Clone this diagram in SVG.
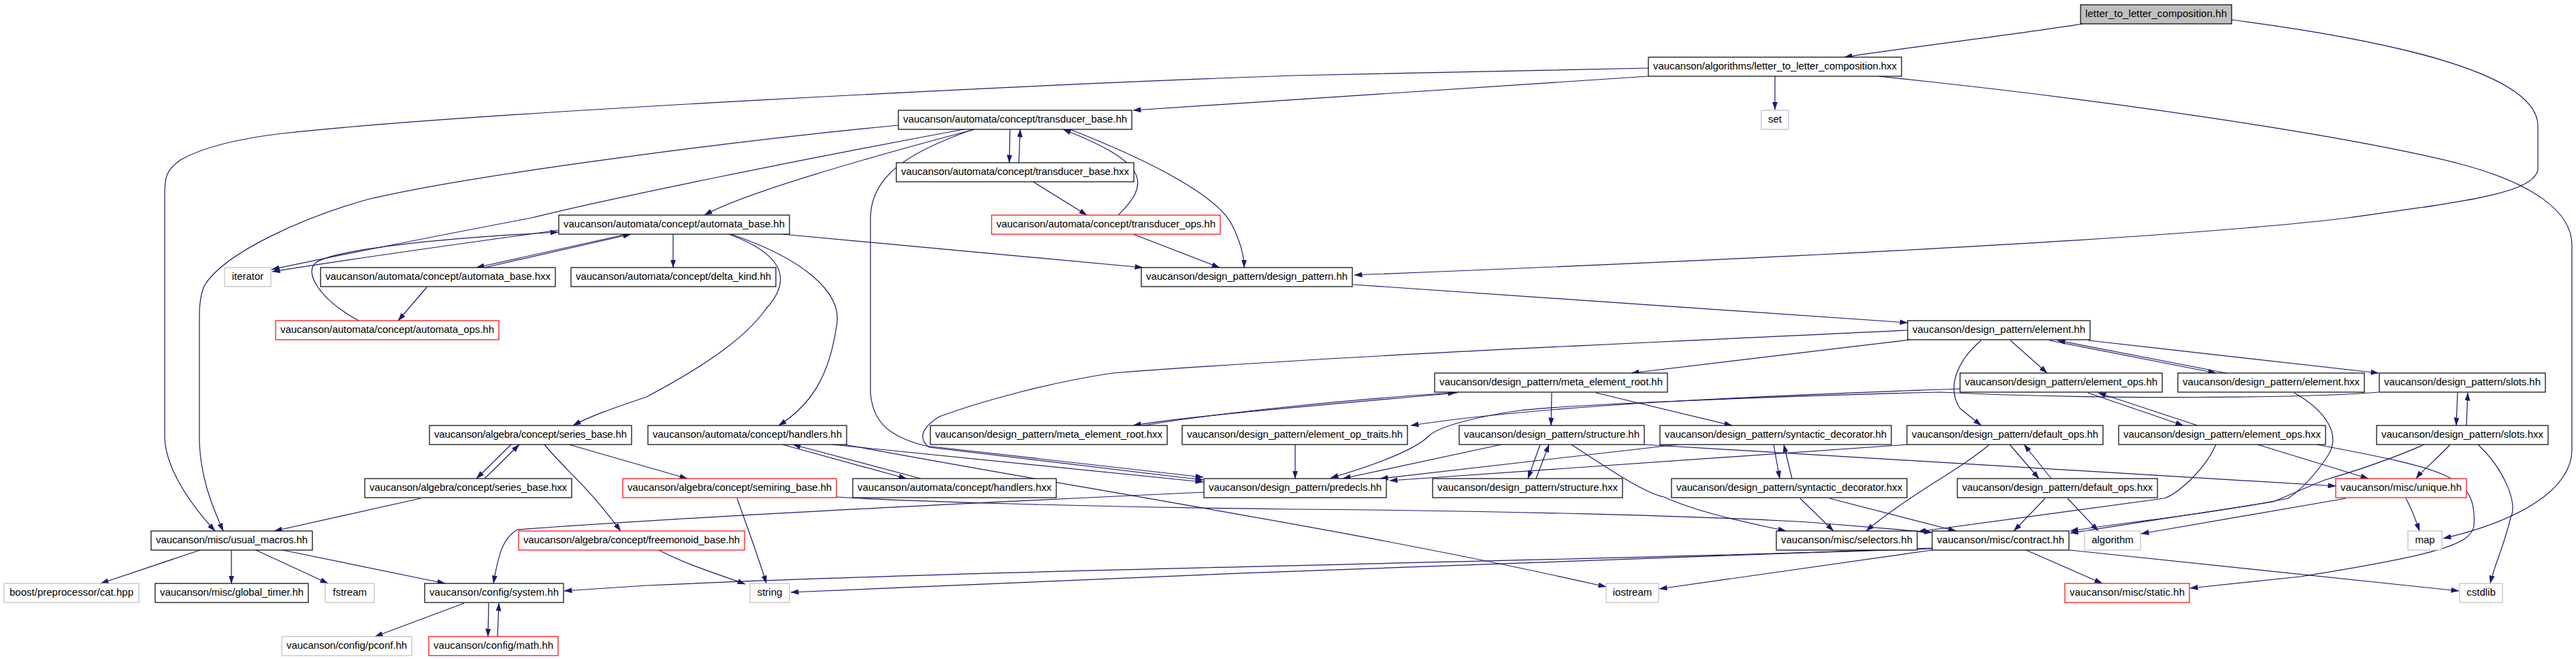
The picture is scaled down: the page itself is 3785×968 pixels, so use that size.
<svg xmlns="http://www.w3.org/2000/svg" width="3785" height="968" viewBox="0 0 3785 968">
<defs>
<marker id="a" markerUnits="userSpaceOnUse" markerWidth="12" markerHeight="8" viewBox="0 0 12 8" refX="11.5" refY="4" orient="auto"><path d="M0,0 L12,4 L0,8 z" fill="#191970"/></marker>
<style>
rect{fill:#fff;stroke:#000;stroke-width:1.2}
.r rect{stroke:#ff0000}
.g rect{stroke:#bfbfbf}
.m rect{fill:#bfbfbf}
text{font-family:"Liberation Sans",Arial,sans-serif;font-size:15px;fill:#000;text-anchor:middle}
#edges path{fill:none;stroke:#191970;stroke-width:1.2;marker-end:url(#a)}
</style>
</defs>
<rect x="0" y="0" width="3785" height="968" style="fill:#fff;stroke:none"/>
<g id="edges">
<path d="M3060,35 C2950,52 2800,70 2710,84"/>
<path d="M3279,29 C3530,62 3729,110 3729,185 L3729,250 C3720,285 3620,296 3450,320 C3200,350 2600,380 1990,404"/>
<path d="M2760,112 L2835,120 C3200,160 3500,210 3623,243 C3720,270 3779,310 3779,360 L3779,660 C3779,720 3700,765 3590,791"/>
<path d="M2608,112 L2608,161"/>
<path d="M2422,112 L1665,162"/>
<path d="M2422,100 L1900,111 C1500,125 700,165 415,196 C330,206 288,222 265,235 C242,252 242,260 242,300 L242,640 C242,680 270,730 316,780"/>
<path d="M1484,190 L1483,239"/>
<path d="M1497,239 L1499,190"/>
<path d="M1518,267 L1597,316"/>
<path d="M1643,316 C1690,270 1690,240 1562,190"/>
<path d="M1665,344 L1792,393"/>
<path d="M1572,190 C1700,240 1790,290 1810,330 C1825,360 1828,380 1828,393"/>
<path d="M1432,190 C1300,225 1100,280 1035,316"/>
<path d="M1416,190 C1200,230 900,290 781,320 C650,345 520,370 399,396"/>
<path d="M1430,190 C1330,225 1280,260 1279,320 L1279,577 C1282,615 1300,640 1360,655 L1768,701"/>
<path d="M1320,184 C1100,205 700,255 540,293 C450,318 330,370 300,420 C292,440 293,460 293,480 L293,650 C295,700 310,740 328,780"/>
<path d="M821,338 C700,355 550,375 400,399"/>
<path d="M527,471 C470,440 445,400 465,385 C500,365 650,350 820,341"/>
<path d="M921,344 L700,393"/>
<path d="M712,393 L927,344"/>
<path d="M627,422 L585,471"/>
<path d="M989,344 L989,393"/>
<path d="M1150,344 L1679,393"/>
<path d="M1074,344 C1180,380 1240,430 1229,480 C1220,540 1200,590 1144,625"/>
<path d="M1071,344 C1150,373 1165,410 1126,453 C1100,490 1050,530 950,583 C900,600 870,610 842,625"/>
<path d="M1988,418 L2803,474"/>
<path d="M2807,499 L2397,548"/>
<path d="M2803,485 C2500,500 2000,520 1635,548 C1540,562 1440,590 1380,612 C1352,630 1350,645 1365,657 L1768,705"/>
<path d="M2954,500 L3008,548"/>
<path d="M3011,500 L3256,548"/>
<path d="M3271,548 L3023,500"/>
<path d="M3068,500 L3495,548"/>
<path d="M2911,500 C2875,530 2860,570 2880,600 L2911,625"/>
<path d="M2880,571 C2700,578 2300,590 2073,625"/>
<path d="M3495,576 C3400,584 3100,588 2850,576 C2600,582 2300,595 2233,603 C2150,615 2110,630 2100,640 C2080,660 2030,680 1955,702"/>
<path d="M2280,577 L2279,625"/>
<path d="M2345,577 L2545,625"/>
<path d="M2142,577 C2000,590 1750,610 1665,625"/>
<path d="M1680,625 C1800,605 2000,585 2139,577"/>
<path d="M2263,653 L2245,703"/>
<path d="M2257,703 L2276,653"/>
<path d="M2206,653 L1973,703"/>
<path d="M2309,653 C2380,700 2420,725 2445,730 C2500,755 2580,770 2624,780"/>
<path d="M2416,653 L3432,714"/>
<path d="M2606,653 L2615,703"/>
<path d="M2633,703 L2621,653"/>
<path d="M2465,653 L2028,703"/>
<path d="M2803,653 L2042,706"/>
<path d="M2923,653 C2880,690 2800,730 2742,780"/>
<path d="M2953,653 L2996,703"/>
<path d="M3014,703 L2974,653"/>
<path d="M3068,577 L3208,625"/>
<path d="M3229,625 L3083,577"/>
<path d="M3371,577 C3420,605 3440,640 3420,670 C3400,700 3380,720 3362,732 C3250,755 3100,770 3042,780"/>
<path d="M3562,653 C3500,680 3440,698 3416,705 C3390,715 3370,725 3340,737 L3042,783"/>
<path d="M3256,653 C3240,690 3200,725 3180,732 L2818,781"/>
<path d="M3447,732 L3146,784"/>
<path d="M3005,732 L2959,780"/>
<path d="M3038,732 L3083,780"/>
<path d="M3535,732 C3545,750 3550,765 3555,780"/>
<path d="M3600,653 C3580,675 3560,690 3550,703"/>
<path d="M3317,653 L3480,703"/>
<path d="M3641,653 C3680,690 3700,740 3689,760 C3680,800 3665,830 3659,857"/>
<path d="M3404,653 C3600,690 3640,700 3635,773 C3630,800 3580,815 3380,847 L3218,864"/>
<path d="M2977,808 L3089,857"/>
<path d="M3041,808 L3613,868"/>
<path d="M3611,577 L3609,625"/>
<path d="M3624,625 L3626,577"/>
<path d="M751,653 L700,703"/>
<path d="M712,703 L763,653"/>
<path d="M800,653 C830,690 860,710 912,780"/>
<path d="M836,653 L1010,703"/>
<path d="M618,732 L403,780"/>
<path d="M294,808 L148,857"/>
<path d="M340,808 L340,857"/>
<path d="M376,808 L482,857"/>
<path d="M415,808 L654,857"/>
<path d="M682,886 L551,935"/>
<path d="M718,886 L717,935"/>
<path d="M731,935 L733,886"/>
<path d="M1150,653 L1332,703"/>
<path d="M1353,703 L1165,653"/>
<path d="M1223,653 L1768,708"/>
<path d="M1241,653 C1600,720 2000,780 2360,862"/>
<path d="M1229,730 C1300,735 1600,745 1900,748 C2200,750 2500,758 2657,767 L2839,782"/>
<path d="M1769,723 C1400,740 1000,760 760,778 C740,790 733,810 725,857"/>
<path d="M1083,732 C1100,780 1115,820 1126,857"/>
<path d="M968,808 C1010,830 1060,845 1095,858"/>
<path d="M2839,805 C2400,820 1700,845 1162,870"/>
<path d="M2839,806 C2300,825 1500,835 950,860 L829,868"/>
<path d="M2839,808 L2438,865"/>
<path d="M2645,732 L2694,780"/>
<path d="M2688,732 L2874,780"/>
<path d="M1903,653 L1903,703"/>
</g>
<g id="n_main" class="m"><rect x="3057" y="7" width="222" height="28"/><text x="3168" y="25" textLength="208">letter_to_letter_composition.hh</text></g>
<g id="n_lcomp"><rect x="2422" y="84" width="372" height="28"/><text x="2608" y="102" textLength="358">vaucanson/algorithms/letter_to_letter_composition.hxx</text></g>
<g id="n_set" class="g"><rect x="2588" y="162" width="40" height="28"/><text x="2608" y="180">set</text></g>
<g id="n_tb"><rect x="1320" y="162" width="343" height="28"/><text x="1491.5" y="180" textLength="329">vaucanson/automata/concept/transducer_base.hh</text></g>
<g id="n_tbx"><rect x="1317" y="239" width="349" height="28"/><text x="1491.5" y="257" textLength="335">vaucanson/automata/concept/transducer_base.hxx</text></g>
<g id="n_tops" class="r"><rect x="1457" y="316" width="336" height="28"/><text x="1625" y="334" textLength="322">vaucanson/automata/concept/transducer_ops.hh</text></g>
<g id="n_ab"><rect x="821" y="316" width="339" height="28"/><text x="990.5" y="334" textLength="325">vaucanson/automata/concept/automata_base.hh</text></g>
<g id="n_iter" class="g"><rect x="330" y="393" width="68" height="28"/><text x="364" y="411">iterator</text></g>
<g id="n_abx"><rect x="471" y="393" width="345" height="28"/><text x="643.5" y="411" textLength="331">vaucanson/automata/concept/automata_base.hxx</text></g>
<g id="n_dk"><rect x="839" y="393" width="301" height="28"/><text x="989.5" y="411" textLength="287">vaucanson/automata/concept/delta_kind.hh</text></g>
<g id="n_dp"><rect x="1677" y="393" width="310" height="28"/><text x="1832" y="411" textLength="296">vaucanson/design_pattern/design_pattern.hh</text></g>
<g id="n_aops" class="r"><rect x="405" y="471" width="328" height="28"/><text x="569" y="489" textLength="314">vaucanson/automata/concept/automata_ops.hh</text></g>
<g id="n_el"><rect x="2803" y="471" width="268" height="28"/><text x="2937" y="489" textLength="254">vaucanson/design_pattern/element.hh</text></g>
<g id="n_mer"><rect x="2108" y="548" width="342" height="28"/><text x="2279" y="566" textLength="328">vaucanson/design_pattern/meta_element_root.hh</text></g>
<g id="n_eo"><rect x="2880" y="548" width="297" height="28"/><text x="3028.5" y="566" textLength="283">vaucanson/design_pattern/element_ops.hh</text></g>
<g id="n_elx"><rect x="3200" y="548" width="274" height="28"/><text x="3337" y="566" textLength="260">vaucanson/design_pattern/element.hxx</text></g>
<g id="n_slots"><rect x="3496" y="548" width="244" height="28"/><text x="3618" y="566" textLength="230">vaucanson/design_pattern/slots.hh</text></g>
<g id="n_sb"><rect x="631" y="625" width="297" height="28"/><text x="779.5" y="643" textLength="283">vaucanson/algebra/concept/series_base.hh</text></g>
<g id="n_h"><rect x="952" y="625" width="292" height="28"/><text x="1098" y="643" textLength="278">vaucanson/automata/concept/handlers.hh</text></g>
<g id="n_merx"><rect x="1367" y="625" width="348" height="28"/><text x="1541" y="643" textLength="334">vaucanson/design_pattern/meta_element_root.hxx</text></g>
<g id="n_eot"><rect x="1737" y="625" width="331" height="28"/><text x="1902.5" y="643" textLength="317">vaucanson/design_pattern/element_op_traits.hh</text></g>
<g id="n_st"><rect x="2144" y="625" width="272" height="28"/><text x="2280" y="643" textLength="258">vaucanson/design_pattern/structure.hh</text></g>
<g id="n_sd"><rect x="2439" y="625" width="340" height="28"/><text x="2609" y="643" textLength="326">vaucanson/design_pattern/syntactic_decorator.hh</text></g>
<g id="n_dop"><rect x="2802" y="625" width="288" height="28"/><text x="2946" y="643" textLength="274">vaucanson/design_pattern/default_ops.hh</text></g>
<g id="n_eox"><rect x="3113" y="625" width="304" height="28"/><text x="3265" y="643" textLength="290">vaucanson/design_pattern/element_ops.hxx</text></g>
<g id="n_slx"><rect x="3492" y="625" width="252" height="28"/><text x="3618" y="643" textLength="238">vaucanson/design_pattern/slots.hxx</text></g>
<g id="n_sbx"><rect x="536" y="703" width="304" height="28"/><text x="688" y="721" textLength="290">vaucanson/algebra/concept/series_base.hxx</text></g>
<g id="n_sr" class="r"><rect x="915" y="703" width="314" height="28"/><text x="1072" y="721" textLength="300">vaucanson/algebra/concept/semiring_base.hh</text></g>
<g id="n_hx"><rect x="1253" y="703" width="299" height="28"/><text x="1402.5" y="721" textLength="285">vaucanson/automata/concept/handlers.hxx</text></g>
<g id="n_pd"><rect x="1769" y="703" width="268" height="28"/><text x="1903" y="721" textLength="254">vaucanson/design_pattern/predecls.hh</text></g>
<g id="n_stx"><rect x="2105" y="703" width="279" height="28"/><text x="2244.5" y="721" textLength="265">vaucanson/design_pattern/structure.hxx</text></g>
<g id="n_sdx"><rect x="2456" y="703" width="346" height="28"/><text x="2629" y="721" textLength="332">vaucanson/design_pattern/syntactic_decorator.hxx</text></g>
<g id="n_dopx"><rect x="2876" y="703" width="294" height="28"/><text x="3023" y="721" textLength="280">vaucanson/design_pattern/default_ops.hxx</text></g>
<g id="n_uq" class="r"><rect x="3432" y="703" width="192" height="28"/><text x="3528" y="721" textLength="178">vaucanson/misc/unique.hh</text></g>
<g id="n_um"><rect x="222" y="780" width="237" height="28"/><text x="340.5" y="798" textLength="223">vaucanson/misc/usual_macros.hh</text></g>
<g id="n_fm" class="r"><rect x="762" y="780" width="332" height="28"/><text x="928" y="798" textLength="318">vaucanson/algebra/concept/freemonoid_base.hh</text></g>
<g id="n_sel"><rect x="2610" y="780" width="207" height="28"/><text x="2713.5" y="798" textLength="193">vaucanson/misc/selectors.hh</text></g>
<g id="n_ct"><rect x="2839" y="780" width="201" height="28"/><text x="2939.5" y="798" textLength="187">vaucanson/misc/contract.hh</text></g>
<g id="n_alg" class="g"><rect x="3063" y="780" width="82" height="28"/><text x="3104" y="798">algorithm</text></g>
<g id="n_map" class="g"><rect x="3538" y="780" width="50" height="28"/><text x="3563" y="798">map</text></g>
<g id="n_boost" class="g"><rect x="6" y="857" width="198" height="28"/><text x="105" y="875" textLength="182">boost/preprocessor/cat.hpp</text></g>
<g id="n_gt"><rect x="228" y="857" width="225" height="28"/><text x="340.5" y="875" textLength="211">vaucanson/misc/global_timer.hh</text></g>
<g id="n_fs" class="g"><rect x="478" y="857" width="72" height="28"/><text x="514" y="875">fstream</text></g>
<g id="n_sys"><rect x="624" y="857" width="204" height="28"/><text x="726" y="875" textLength="190">vaucanson/config/system.hh</text></g>
<g id="n_str" class="g"><rect x="1102" y="857" width="58" height="28"/><text x="1131" y="875">string</text></g>
<g id="n_ios" class="g"><rect x="2360" y="857" width="77" height="28"/><text x="2398.5" y="875">iostream</text></g>
<g id="n_static" class="r"><rect x="3034" y="857" width="183" height="28"/><text x="3125.5" y="875" textLength="169">vaucanson/misc/static.hh</text></g>
<g id="n_cstd" class="g"><rect x="3614" y="857" width="63" height="28"/><text x="3645.5" y="875">cstdlib</text></g>
<g id="n_pconf" class="g"><rect x="414" y="935" width="191" height="28"/><text x="509.5" y="953" textLength="177">vaucanson/config/pconf.hh</text></g>
<g id="n_math" class="r"><rect x="630" y="935" width="190" height="28"/><text x="725" y="953" textLength="176">vaucanson/config/math.hh</text></g>
</svg>
